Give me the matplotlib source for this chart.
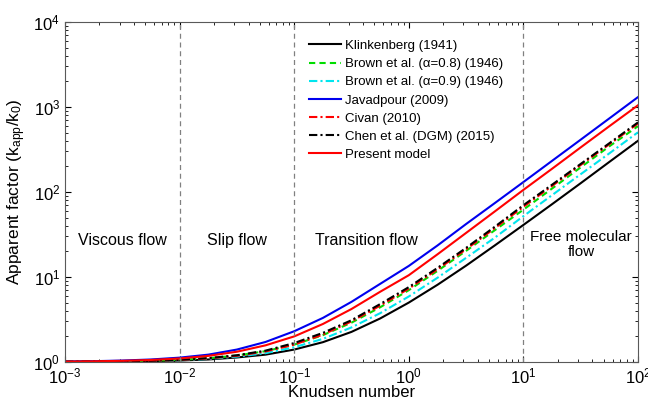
import matplotlib
matplotlib.use("Agg")
import matplotlib.pyplot as plt
import numpy as np

plt.rcParams['font.family'] = ['Liberation Sans', 'DejaVu Sans']
plt.rcParams['mathtext.fontset'] = 'custom'
plt.rcParams['mathtext.rm'] = 'Liberation Sans'
plt.rcParams['mathtext.it'] = 'Liberation Sans'

# Knudsen numbers where values were read (quarter-decade steps)
kn = [0.001, 0.00178, 0.00316, 0.00562, 0.01, 0.0178, 0.0316, 0.0562, 0.1, 0.178, 0.316,
      0.562, 1, 1.78, 3.16, 5.62, 10, 17.8, 31.6, 56.2, 100]

klinkenberg = [1.004, 1.007, 1.013, 1.022, 1.04, 1.07, 1.13, 1.22, 1.4, 1.71, 2.26,
               3.25, 5.0, 8.1, 13.6, 23.5, 41, 72, 127, 226, 401]
brown_08 = [1.006, 1.011, 1.019, 1.034, 1.06, 1.107, 1.19, 1.34, 1.6, 2.07, 2.9,
            4.4, 7.0, 11.8, 20.3, 35.5, 62, 110, 195, 345, 595]
brown_09 = [1.005, 1.009, 1.015, 1.027, 1.049, 1.087, 1.155, 1.27, 1.49, 1.87, 2.55,
            3.75, 5.9, 9.8, 16.8, 29, 52, 92, 162, 285, 505]
javadpour = [1.013, 1.022, 1.04, 1.07, 1.125, 1.22, 1.40, 1.72, 2.3, 3.3, 5.1,
             8.3, 13.5, 23.5, 42, 74, 131, 233, 413, 735, 1310]
civan = [1.005, 1.009, 1.017, 1.03, 1.055, 1.1, 1.18, 1.33, 1.6, 2.1, 3.0,
         4.6, 7.3, 12.3, 21.2, 37.5, 67, 118, 208, 365, 640]
chen = [1.006, 1.011, 1.02, 1.035, 1.06, 1.11, 1.2, 1.36, 1.67, 2.2, 3.1,
        4.8, 7.6, 12.8, 22, 39, 70, 122, 214, 375, 660]
present = [1.01, 1.018, 1.032, 1.056, 1.10, 1.18, 1.32, 1.57, 2.0, 2.8, 4.2,
           6.7, 10.5, 18.5, 33, 59, 106, 188, 335, 595, 1050]

boundaries = [0.01, 0.1, 10]

fig = plt.figure(figsize=(6.48, 4.01), dpi=100)
ax = fig.add_axes([0.1003, 0.0973, 0.8843, 0.8477])

ax.plot(kn, klinkenberg, color='black', lw=1.5, label='Klinkenberg (1941)')
ax.plot(kn, brown_08, color='#00dd00', lw=1.5, ls=(0, (3, 2)), label='Brown et al. (\u03b1=0.8) (1946)')
ax.plot(kn, brown_09, color='#00e5ee', lw=1.5, ls=(0, (4, 1.5, 1, 1.5)), label='Brown et al. (\u03b1=0.9) (1946)')
ax.plot(kn, javadpour, color='#0000ee', lw=1.5, label='Javadpour (2009)')
ax.plot(kn, civan, color='red', lw=1.5, ls=(0, (4, 1.5, 1, 1.5)), label='Civan (2010)')
ax.plot(kn, chen, color='black', lw=1.5, ls=(0, (4, 1.5, 1, 1.5)), label='Chen et al. (DGM) (2015)')
ax.plot(kn, present, color='red', lw=1.5, label='Present model')

for b in boundaries:
    ax.axvline(b, color='gray', lw=0.9, ls=(0, (4, 3)))

ax.set_xscale('log')
ax.set_yscale('log')
ax.set_xlim(1e-3, 1e2)
ax.set_ylim(1, 1e4)

ax.text(10**-2.5, 27, 'Viscous flow', ha='center', va='center', fontsize=11.5)
ax.text(10**-1.5, 27, 'Slip flow', ha='center', va='center', fontsize=11.5)
ax.text(0.43, 27, 'Transition flow', ha='center', va='center', fontsize=11.5)
ax.text(32, 24, 'Free molecular\nflow', ha='center', va='center', fontsize=11, linespacing=1.1)

ax.set_xlabel('Knudsen number', fontsize=12, labelpad=-1)
ax.set_ylabel('Apparent factor (k$_{app}$/k$_0$)', fontsize=12.5, labelpad=4)

ax.tick_params(which='both', direction='in', top=True, right=True, labelsize=12)
ax.tick_params(axis='x', pad=3)
ax.tick_params(which='major', length=4)
ax.tick_params(which='minor', length=2)
for s in ax.spines.values():
    s.set_color('0.35')

ax.legend(loc='upper left', bbox_to_anchor=(0.41, 0.975), frameon=False, fontsize=9.5,
          handlelength=2.4, handletextpad=0.3, labelspacing=0.45, borderpad=0.2)

fig.savefig('out.png', dpi=100)
